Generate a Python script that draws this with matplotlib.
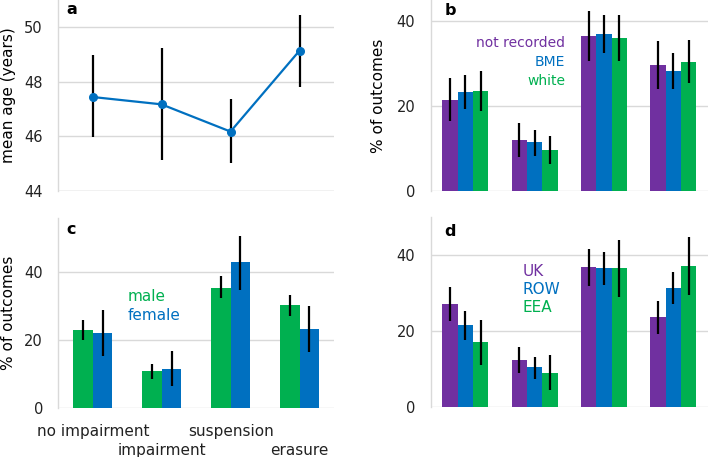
import matplotlib
matplotlib.use("Agg")
import matplotlib.pyplot as plt
import numpy as np

plt.rcParams['font.family'] = ['DejaVu Sans']

# ---------------- data ----------------
outcomes = ["no impairment", "impairment", "suspension", "erasure"]

# panel a: mean age
age_mean = [47.44, 47.17, 46.17, 49.14]
age_lo = [45.98, 45.13, 45.00, 47.82]
age_hi = [48.98, 49.23, 47.35, 50.45]

# panel b: ethnicity
eth_names = ["not recorded", "BME", "white"]
eth_vals = [[21.4, 12.0, 36.5, 29.7],
            [23.2, 11.4, 36.9, 28.3],
            [23.5, 9.6, 36.1, 30.4]]
eth_lo = [[16.4, 8.0, 30.6, 24.1],
          [19.3, 8.3, 32.4, 24.1],
          [18.9, 6.3, 30.6, 25.4]]
eth_hi = [[26.5, 16.0, 42.4, 35.4],
          [27.2, 14.4, 41.4, 32.4],
          [28.3, 12.9, 41.4, 35.6]]

# panel c: gender
sex_names = ["male", "female"]
sex_vals = [[23.0, 10.9, 35.4, 30.3],
            [22.1, 11.6, 42.8, 23.3]]
sex_lo = [[20.1, 8.7, 32.3, 27.2],
          [15.4, 6.6, 34.8, 16.6]]
sex_hi = [[26.0, 13.1, 38.7, 33.4],
          [28.8, 16.9, 50.7, 30.1]]

# panel d: region of qualification
reg_names = ["UK", "ROW", "EEA"]
reg_vals = [[27.1, 12.5, 36.8, 23.7],
            [21.6, 10.5, 36.6, 31.5],
            [17.1, 9.1, 36.6, 37.2]]
reg_lo = [[22.6, 9.1, 31.8, 19.3],
          [17.7, 7.5, 32.2, 27.2],
          [11.1, 4.6, 29.1, 29.6]]
reg_hi = [[31.7, 16.0, 41.6, 28.0],
          [25.4, 13.3, 41.0, 35.7],
          [23.0, 13.7, 44.1, 44.8]]

PURPLE = "#7030A0"
BLUE = "#0070C0"
GREEN = "#00B050"
GRID = "#D9D9D9"

W, H = 708, 457
fig = plt.figure(figsize=(W / 100, H / 100), dpi=100)


def make_ax(left, top, right, bottom):
    return fig.add_axes([left / W, 1 - bottom / H, (right - left) / W, (bottom - top) / H])


def style(ax, ylim, yticks):
    ax.set_xlim(-0.5, 3.5)
    ax.set_ylim(*ylim)
    ax.set_yticks(yticks)
    for s in ["top", "right", "bottom"]:
        ax.spines[s].set_visible(False)
    ax.spines["left"].set_color(GRID)
    ax.spines["left"].set_linewidth(1.0)
    ax.yaxis.grid(True, color=GRID, linewidth=1.0)
    ax.set_axisbelow(True)
    ax.tick_params(axis="y", length=0, pad=11, labelsize=10.5, colors="#222222")
    ax.tick_params(axis="x", length=0)
    ax.set_xticks([])


def bars(ax, vals, lo, hi, colors, width):
    n = len(vals)
    x = np.arange(len(outcomes))
    for i in range(n):
        off = (i - (n - 1) / 2) * width
        v = np.array(vals[i])
        yerr = [v - np.array(lo[i]), np.array(hi[i]) - v]
        ax.bar(x + off, v, width=width, color=colors[i], zorder=2)
        ax.errorbar(x + off, v, yerr=yerr, fmt="none", ecolor="black",
                    elinewidth=1.6, capsize=0, zorder=3)


# panel a
axa = make_ax(58, 0, 334, 190.7)
style(axa, (44, 51), [44, 46, 48, 50])
xa = np.arange(len(outcomes))
m = np.array(age_mean)
axa.errorbar(xa, m, yerr=[m - np.array(age_lo), np.array(age_hi) - m],
             fmt="none", ecolor="black", elinewidth=1.6, capsize=0, zorder=2)
axa.plot(xa, m, color=BLUE, linewidth=1.6, marker="o", markersize=5.5, zorder=3)
axa.set_ylabel("mean age (years)", fontsize=11, labelpad=6)
axa.text(0.031, 1 - 2 / 190.7, "a", transform=axa.transAxes, fontsize=11.5,
         fontweight="bold", va="top", ha="left")
axa.axhline(44, color=GRID, linewidth=1.0, zorder=1)

# panel b
axb = make_ax(430.7, 0, 708, 190.7)
style(axb, (0, 45), [0, 20, 40])
bars(axb, eth_vals, eth_lo, eth_hi, [PURPLE, BLUE, GREEN], 0.22)
axb.set_ylabel("% of outcomes", fontsize=11, labelpad=8)
axb.text(14.3 / 277.3, 1 - 3.3 / 190.7, "b", transform=axb.transAxes, fontsize=11.5,
         fontweight="bold", va="top", ha="left")
for name, col, y in zip(eth_names, [PURPLE, BLUE, GREEN], [34.8, 30.3, 25.9]):
    axb.text(1.44, y, name, color=col, ha="right", va="center", fontsize=10)

# panel c
axc = make_ax(58.3, 217.5, 334, 408.3)
style(axc, (0, 56), [0, 20, 40])
bars(axc, sex_vals, sex_lo, sex_hi, [GREEN, BLUE], 0.285)
axc.set_ylabel("% of outcomes", fontsize=11, labelpad=6)
axc.text(8.4 / 275.7, 1 - 5 / 190.8, "c", transform=axc.transAxes, fontsize=11.5,
         fontweight="bold", va="top", ha="left")
for name, col, y in zip(sex_names, [GREEN, BLUE], [32.8, 27.1]):
    axc.text(0.51, y, name, color=col, ha="left", va="center", fontsize=11)
xc = np.arange(len(outcomes))
axc.set_xticks(xc[0::2])
axc.set_xticklabels(outcomes[0::2], fontsize=11)
axc.set_xticks(xc[1::2], minor=True)
axc.set_xticklabels(outcomes[1::2], minor=True, fontsize=11)
axc.tick_params(axis="x", which="major", length=0, pad=11, colors="#222222")
axc.tick_params(axis="x", which="minor", length=0, pad=25, colors="#222222")

# panel d
axd = make_ax(430.7, 217.3, 708, 407.3)
style(axd, (0, 50), [0, 20, 40])
bars(axd, reg_vals, reg_lo, reg_hi, [PURPLE, BLUE, GREEN], 0.22)
axd.text(13.3 / 277.3, 1 - 7 / 190, "d", transform=axd.transAxes, fontsize=11.5,
         fontweight="bold", va="top", ha="left")
for name, col, y in zip(reg_names, [PURPLE, BLUE, GREEN], [35.7, 31.1, 26.2]):
    axd.text(0.82, y, name, color=col, ha="left", va="center", fontsize=11)

fig.savefig("out.png", dpi=100)
